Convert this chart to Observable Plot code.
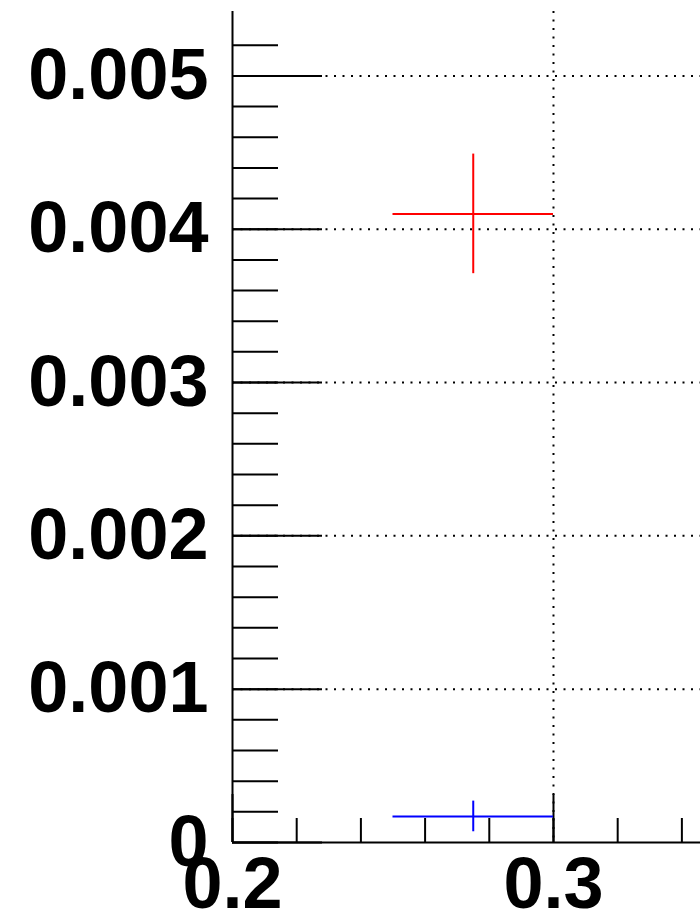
<!DOCTYPE html>
<html>
<head>
<meta charset="utf-8">
<script src="https://cdn.jsdelivr.net/npm/d3@7"></script>
<script src="https://cdn.jsdelivr.net/npm/@observablehq/plot@0.6"></script>
<style>
  html, body { margin: 0; padding: 0; background: #fff; }
  svg { display: block; }
</style>
</head>
<body>
<div id="chart"></div>
<script>
// Data
const series = ["red", "blue"];
const seriesColors = ["#ff0000", "#0000ff"];
const xCenter = [0.275, 0.275];
const xLow = [0.25, 0.25];
const xHigh = [0.30, 0.30];
const yValue = [0.0041, 0.00017];
const yError = [0.00039, 0.0001];

const yMajorTicks = [0, 0.001, 0.002, 0.003, 0.004, 0.005];
const yMinorTicks = d3.range(0, 27).map(i => +(i * 0.0002).toFixed(4));
const xMajorTicks = [0.2, 0.3];
const xMinorTicks = [0.2, 0.22, 0.24, 0.26, 0.28, 0.3, 0.32, 0.34];

const points = series.map((s, i) => ({
  s, color: seriesColors[i], x: xCenter[i], x1: xLow[i], x2: xHigh[i],
  y: yValue[i], y1: yValue[i] - yError[i], y2: yValue[i] + yError[i]
}));

const W = 700, H = 917;
const fmtY = d => d === 0 ? "0" : d.toFixed(3);
const fmtX = d => d.toFixed(1);

const chart = Plot.plot({
  width: W,
  height: H,
  marginLeft: 232,
  marginRight: 0,
  marginTop: 11,
  marginBottom: 75,
  style: { fontFamily: "'Liberation Sans', Arial, Helvetica, sans-serif", fontWeight: "bold", background: "#fff", overflow: "visible" },
  x: { domain: [0.2, 0.3458], label: null },
  y: { domain: [0, 0.00542], label: null },
  marks: [
    // dotted grid
    Plot.gridY(yMajorTicks.filter(d => d > 0), { stroke: "#000", strokeOpacity: 1, strokeWidth: 2, strokeDasharray: "2,6.5" }),
    Plot.gridX([0.3], { stroke: "#000", strokeOpacity: 1, strokeWidth: 2, strokeDasharray: "2,6.5" }),
    // y ticks (inward)
    Plot.axisY(yMinorTicks, { anchor: "left", tickSize: -46, strokeWidth: 2, text: null, label: null }),
    Plot.axisY(yMajorTicks, { anchor: "left", tickSize: -90, strokeWidth: 2, text: null, label: null }),
    Plot.axisY(yMajorTicks, { anchor: "left", tickSize: 0, tickPadding: 24, tickFormat: fmtY, fontSize: 72, fontWeight: "bold", label: null }),
    // x ticks (inward)
    Plot.axisX(xMinorTicks, { anchor: "bottom", tickSize: -24, strokeWidth: 2, text: null, label: null }),
    Plot.axisX(xMajorTicks, { anchor: "bottom", tickSize: -48, strokeWidth: 2, text: null, label: null }),
    Plot.axisX(xMajorTicks, { anchor: "bottom", tickSize: 0, tickPadding: 14, tickFormat: fmtX, fontSize: 72, fontWeight: "bold", label: null }),
    // axis lines
    Plot.ruleX([0.2], { stroke: "#000", strokeWidth: 2 }),
    Plot.ruleY([0], { stroke: "#000", strokeWidth: 2 }),
    // error bars
    Plot.ruleY(points, { x1: "x1", x2: "x2", y: "y", stroke: "color", strokeWidth: 2 }),
    Plot.ruleX(points, { x: "x", y1: "y1", y2: "y2", stroke: "color", strokeWidth: 2 })
  ]
});

document.getElementById("chart").appendChild(chart);
</script>
</body>
</html>
